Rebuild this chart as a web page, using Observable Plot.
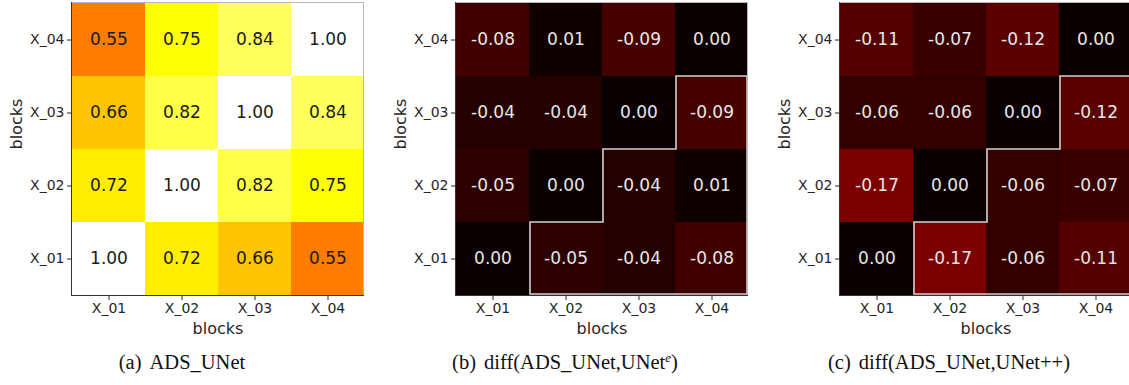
<!DOCTYPE html>
<html>
<head>
<meta charset="utf-8">
<script src="https://cdn.jsdelivr.net/npm/d3@7"></script>
<script src="https://cdn.jsdelivr.net/npm/@observablehq/plot@0.6"></script>
<style>
  html, body { margin: 0; padding: 0; background: #fff; overflow: hidden; }
  #root { position: relative; width: 1129px; height: 385px; overflow: hidden; }
  .panel { position: absolute; top: 0; width: 383px; height: 340px; }
  .panel svg { max-width: none !important; }
  .cap { position: absolute; top: 351px; font-family: "Liberation Serif", "Times New Roman", serif; font-size: 20.5px; color: #111; white-space: nowrap; transform: translateX(-50%); }
  .cap .tag { margin-right: 8px; }
  .cap sup { font-size: 13px; font-style: italic; vertical-align: 7px; line-height: 0; }
</style>
</head>
<body>
<div id="root"></div>
<script>
// ---- data ----
const blocks = ["X_01", "X_02", "X_03", "X_04"];
const axisLabel = "blocks";
// rows are y categories (X_01 .. X_04), columns are x categories (X_01 .. X_04)
const simADS = [
  [1.00, 0.72, 0.66, 0.55],
  [0.72, 1.00, 0.82, 0.75],
  [0.66, 0.82, 1.00, 0.84],
  [0.55, 0.75, 0.84, 1.00]
];
const diffUNetE = [
  [0.00, -0.05, -0.04, -0.08],
  [-0.05, 0.00, -0.04, 0.01],
  [-0.04, -0.04, 0.00, -0.09],
  [-0.08, 0.01, -0.09, 0.00]
];
const diffUNetPP = [
  [0.00, -0.17, -0.06, -0.11],
  [-0.17, 0.00, -0.06, -0.07],
  [-0.06, -0.06, 0.00, -0.12],
  [-0.11, -0.07, -0.12, 0.00]
];
const captions = [
  {tag: "(a)", html: "ADS_UNet"},
  {tag: "(b)", html: "diff(ADS_UNet,UNet<sup>e</sup>)"},
  {tag: "(c)", html: "diff(ADS_UNet,UNet++)"}
];

// matplotlib "hot" colormap
function hot(t) {
  t = Math.max(0, Math.min(1, t));
  const a = 0.365079, b = 0.746032;
  const r = t < a ? 0.0416 + (1 - 0.0416) * t / a : 1;
  const g = t < a ? 0 : (t < b ? (t - a) / (b - a) : 1);
  const bl = t < b ? 0 : (t - b) / (1 - b);
  return d3.rgb(r * 255, g * 255, bl * 255).formatHex();
}

function toCells(matrix) {
  const out = [];
  matrix.forEach((row, i) => row.forEach((v, j) => out.push({y: blocks[i], x: blocks[j], v})));
  return out;
}

function panel(matrix, opts) {
  const cells = toCells(matrix);
  const n = blocks.length;
  const marks = [
    Plot.cell(cells, {x: "x", y: "y", fill: d => opts.colorValue(d.v), inset: 0, shapeRendering: "crispEdges"}),
    Plot.text(cells, {x: "x", y: "y", text: d => d.v.toFixed(2), fill: opts.textColor, fontSize: 17, fontFamily: "DejaVu Sans"}),
    Plot.axisX({tickSize: 4, tickPadding: 3, fontSize: 14, label: null}),
    Plot.axisY({tickSize: 4, tickPadding: 3, fontSize: 14, label: null}),
    Plot.text([axisLabel], {frameAnchor: "bottom", lineAnchor: "middle", dy: 32, fontSize: 16, fill: "#262626", fontFamily: "DejaVu Sans"}),
    Plot.text([axisLabel], {frameAnchor: "left", lineAnchor: "middle", rotate: -90, dx: -55, fontSize: 16, fill: "#262626", fontFamily: "DejaVu Sans"}),
    // spines + staircase outline derived from the band scales
    (index, scales, values, dims) => {
      const g = d3.create("svg:g");
      const x0 = dims.marginLeft, x1 = dims.width - dims.marginRight;
      const y0 = dims.marginTop, y1 = dims.height - dims.marginBottom;
      const bh = Math.abs(scales.y(blocks[0]) - scales.y(blocks[1]));
      if (opts.outline) {
        // enclose cells where column index > row index
        const pts = [];
        const left = j => scales.x(blocks[j]);
        const bottom = i => scales.y(blocks[i]) + bh; // row bottom edge
        pts.push([left(1) + 1, bottom(0) - 1]);
        for (let i = 0; i < n - 1; i++) {
          pts.push([left(i + 1) + 1, bottom(i) - bh]);
          if (i + 2 < n) pts.push([left(i + 2) + 1, bottom(i) - bh]);
          else pts.push([x1 - 1, bottom(i) - bh]);
        }
        pts.push([x1 - 1, bottom(0) - 1]);
        g.append("path")
          .attr("d", "M" + pts.map(p => p.join(",")).join("L") + "Z")
          .attr("fill", "none").attr("stroke", "#cfcfcf").attr("stroke-width", 1.6);
      }
      g.append("line").attr("x1", x0).attr("x2", x1).attr("y1", y0 + 0.5).attr("y2", y0 + 0.5).attr("stroke", "#b8b8b8");
      g.append("line").attr("x1", x1 - 0.5).attr("x2", x1 - 0.5).attr("y1", y0).attr("y2", y1).attr("stroke", "#b8b8b8");
      g.append("line").attr("x1", x0 + 0.5).attr("x2", x0 + 0.5).attr("y1", y0).attr("y2", y1).attr("stroke", "#333");
      g.append("line").attr("x1", x0).attr("x2", x1).attr("y1", y1 - 0.5).attr("y2", y1 - 0.5).attr("stroke", "#333");
      return g.node();
    }
  ];
  const svg = Plot.plot({
    width: 383,
    height: 340,
    marginLeft: 71,
    marginRight: 19,
    marginTop: 2,
    marginBottom: 44,
    style: {fontFamily: "DejaVu Sans", fontSize: "14px", color: "#262626", background: "transparent", overflow: "visible", maxWidth: "none"},
    x: {domain: blocks, padding: 0, label: null},
    y: {domain: blocks.slice().reverse(), padding: 0, label: null},
    marks
  });
  svg.style.maxWidth = "none";
  return svg;
}

const root = document.getElementById("root");
const configs = [
  {m: simADS, colorValue: v => hot(v), textColor: "#1a1a1a", outline: false, left: 0},
  {m: diffUNetE, colorValue: v => hot(Math.abs(v)), textColor: "#e6e6e6", outline: true, left: 384},
  {m: diffUNetPP, colorValue: v => hot(Math.abs(v)), textColor: "#e6e6e6", outline: true, left: 768}
];
const capCenters = [182, 565, 949];
configs.forEach((c, k) => {
  const wrap = document.createElement("div");
  wrap.className = "panel";
  wrap.style.left = c.left + "px";
  wrap.appendChild(panel(c.m, c));
  root.appendChild(wrap);
  const cap = document.createElement("div");
  cap.className = "cap";
  cap.style.left = capCenters[k] + "px";
  cap.innerHTML = `<span class="tag">${captions[k].tag}</span>${captions[k].html}`;
  root.appendChild(cap);
});
</script>
</body>
</html>
